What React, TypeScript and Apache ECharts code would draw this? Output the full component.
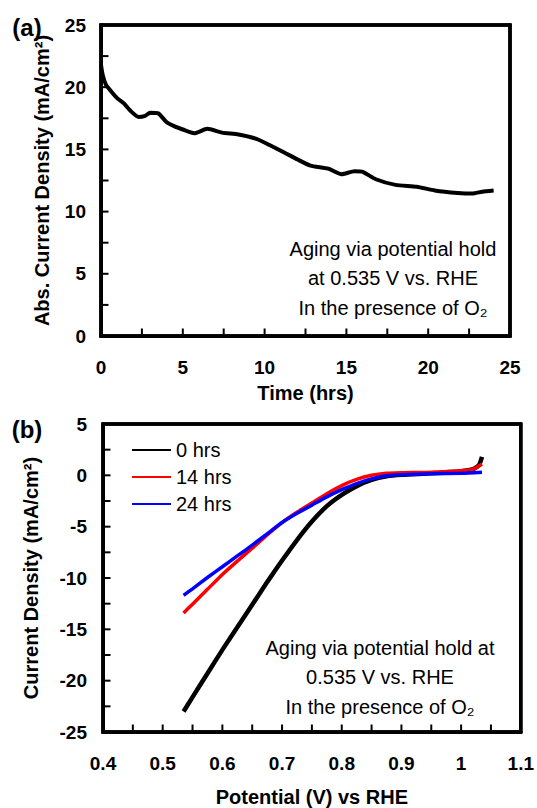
import React, { useEffect, useRef } from "react";
import * as echarts from "echarts";

// ---- (a) potential hold: time (hrs) vs abs. current density ----
const holdTime = [0, 0.1, 0.3, 0.6, 1.0, 1.4, 1.8, 2.3, 2.7, 3.0, 3.5, 4.0, 4.5, 5.0, 5.7, 6.5, 7.4, 8.4, 9.5, 10.3, 11.2, 12.0, 12.8, 13.9, 14.7, 15.5, 16.0, 16.8, 18.0, 19.3, 20.4, 21.8, 22.7, 23.3, 24.0];
const holdCurrent = [21.8, 21.0, 20.2, 19.7, 19.1, 18.7, 18.1, 17.6, 17.7, 17.95, 17.9, 17.2, 16.85, 16.6, 16.3, 16.65, 16.35, 16.2, 15.85, 15.35, 14.75, 14.2, 13.7, 13.45, 13.0, 13.25, 13.2, 12.6, 12.15, 12.0, 11.7, 11.5, 11.45, 11.6, 11.7];

// ---- (b) polarization curves ----
const potBlack = [0.535, 0.55, 0.575, 0.6, 0.625, 0.65, 0.675, 0.7, 0.725, 0.75, 0.775, 0.8, 0.825, 0.85, 0.875, 0.9, 0.95, 1.0, 1.02, 1.03, 1.035];
const cur0h = [-23.0, -21.6, -19.3, -17.0, -14.8, -12.6, -10.4, -8.3, -6.3, -4.5, -3.0, -1.9, -1.05, -0.45, -0.1, 0.05, 0.2, 0.4, 0.6, 1.0, 1.8];
const potRed = [0.535, 0.55, 0.575, 0.6, 0.625, 0.65, 0.675, 0.7, 0.725, 0.75, 0.775, 0.8, 0.825, 0.85, 0.875, 0.9, 0.95, 1.0, 1.02, 1.035];
const cur14h = [-13.4, -12.55, -11.1, -9.65, -8.35, -7.1, -5.8, -4.6, -3.6, -2.7, -1.8, -1.0, -0.4, 0.0, 0.2, 0.25, 0.3, 0.45, 0.6, 1.1];
const potBlue = [0.535, 0.55, 0.575, 0.6, 0.625, 0.65, 0.675, 0.7, 0.725, 0.75, 0.775, 0.8, 0.825, 0.85, 0.875, 0.9, 0.95, 1.0, 1.035];
const cur24h = [-11.7, -11.05, -9.95, -8.9, -7.85, -6.8, -5.7, -4.6, -3.7, -2.9, -2.1, -1.4, -0.8, -0.35, -0.05, 0.05, 0.15, 0.2, 0.3];

const legendNames = ["0 hrs", "14 hrs", "24 hrs"];
const noteA = ["Aging via potential hold", "at 0.535 V vs. RHE", "In the presence of O\u2082"];
const noteB = ["Aging via potential hold at", "0.535 V vs. RHE", "In the presence of O\u2082"];

// axis extents
const timeRange = [0, 25];
const densARange = [0, 25];
const potRange = [0.4, 1.1];
const densBRange = [-25, 5];

const FONT = "'Liberation Sans', Arial, Helvetica, sans-serif";

const zip = (xs: number[], ys: number[]) => xs.map((x, i) => [x, ys[i]]);
const steps = (min: number, max: number, step: number) => {
  const n = Math.round((max - min) / step);
  return Array.from({ length: n + 1 }, (_, i) => min + i * step);
};
const box = (xr: number[], yr: number[]) => [
  [xr[0], yr[0]],
  [xr[1], yr[0]],
  [xr[1], yr[1]],
  [xr[0], yr[1]],
  [xr[0], yr[0]],
];

export default function App() {
  const ref = useRef<HTMLDivElement>(null);
  useEffect(() => {
    document.body.style.margin = "0";
    if (!ref.current) return;
    const chart = echarts.init(ref.current, undefined, { renderer: "svg" });

    const labelStyle = { fontFamily: FONT, fontWeight: "bold", fontSize: 19, color: "#000" };
    const mainAxis = (name: string, nameGap: number, margin: number) => ({
      type: "value" as const,
      name,
      nameLocation: "middle" as const,
      nameGap,
      nameTextStyle: { fontFamily: FONT, fontWeight: "bold", fontSize: 20, color: "#000" },
      axisLine: { show: true, onZero: false, lineStyle: { color: "#000", width: 3 } },
      axisTick: { show: false },
      minorTick: { show: false },
      splitLine: { show: false },
      axisLabel: { ...labelStyle, margin },
    });

    // frame + inward ticks, placed through the axes' own scales
    const frameSeries = (xi: number, xr: number[], yr: number[], xTicks: number[], yTicks: number[]) => ({
      type: "custom",
      name: "frame" + xi,
      xAxisIndex: xi,
      yAxisIndex: xi,
      silent: true,
      clip: false,
      z: 5,
      data: [[xr[0], yr[0]]],
      renderItem: (_p: any, api: any) => {
        const [l, b] = api.coord([xr[0], yr[0]]);
        const [r, t] = api.coord([xr[1], yr[1]]);
        const W = 3;
        const fill = { fill: "#000" };
        const children: any[] = [
          { type: "rect", shape: { x: l - W / 2, y: t - W / 2, width: r - l + W, height: W }, style: fill },
          { type: "rect", shape: { x: l - W / 2, y: b - W / 2, width: r - l + W, height: W }, style: fill },
          { type: "rect", shape: { x: l - W / 2, y: t - W / 2, width: W, height: b - t + W }, style: fill },
          { type: "rect", shape: { x: r - W / 2, y: t - W / 2, width: W, height: b - t + W }, style: fill },
        ];
        xTicks.forEach((v) => {
          const px = api.coord([v, yr[0]])[0];
          children.push({ type: "rect", shape: { x: px - 1, y: b - W / 2 - 6, width: 2, height: 6 }, style: fill });
        });
        yTicks.forEach((v) => {
          const py = api.coord([xr[0], v])[1];
          children.push({ type: "rect", shape: { x: l + W / 2, y: py - 1, width: 6, height: 2 }, style: fill });
        });
        return { type: "group", children };
      },
    });

    const frameLine = (xi: number, xr: number[], yr: number[]) => ({
      type: "line",
      name: "box" + xi,
      xAxisIndex: xi,
      yAxisIndex: xi,
      data: box(xr, yr),
      symbol: "none",
      silent: true,
      clip: false,
      z: 6,
      lineStyle: { color: "#000", width: 3 },
      itemStyle: { color: "#000" },
    });

    const noteText = (lines: string[], cx: number, ys: number[]) =>
      lines.map((t, i) => ({
        type: "text",
        x: cx,
        y: ys[i],
        style: {
          text: t,
          font: `20px ${FONT}`,
          fill: "#000",
          align: "center",
          verticalAlign: "middle",
          textAlign: "center",
          textVerticalAlign: "middle",
        },
      }));

    const panelLabel = (t: string, x: number, y: number) => ({
      type: "text",
      x,
      y,
      style: { text: t, font: `bold 24px ${FONT}`, fill: "#000", align: "center", verticalAlign: "middle", textAlign: "center", textVerticalAlign: "middle" },
    });

    const baseGraphic = [
      panelLabel("(a)", 27, 27),
      panelLabel("(b)", 27, 429),
      ...noteText(noteA, 393, [249, 278, 308]),
      ...noteText(noteB, 380, [648, 677, 707]),
    ];

    chart.setOption({
      animation: false,
      grid: [
        { left: 101, top: 25, width: 409, height: 311, show: true, borderColor: "#000", borderWidth: 3 },
        { left: 103, top: 424, width: 418, height: 308, show: true, borderColor: "#000", borderWidth: 3 },
      ],
      xAxis: [
        { ...mainAxis("Time (hrs)", 47, 22), gridIndex: 0, min: timeRange[0], max: timeRange[1], interval: 5 },
        { ...mainAxis("Potential (V) vs RHE", 55, 22), gridIndex: 1, min: potRange[0], max: potRange[1], interval: 0.1 },
      ],
      yAxis: [
        { ...mainAxis("Abs. Current Density (mA/cm\u00b2)", 49, 15), gridIndex: 0, min: densARange[0], max: densARange[1], interval: 5 },
        { ...mainAxis("Current Density (mA/cm\u00b2)", 62, 16), gridIndex: 1, min: densBRange[0], max: densBRange[1], interval: 5 },
      ],
      legend: {
        data: legendNames,
        orient: "vertical",
        left: 127,
        top: 435,
        icon: "rect",
        itemWidth: 39,
        itemHeight: 2,
        itemGap: 7,
        textStyle: { fontFamily: FONT, fontSize: 20, color: "#000", lineHeight: 20 },
      },
      series: [
        frameSeries(0, timeRange, densARange, steps(0, 25, 2.5), steps(0, 25, 2.5)),
        frameSeries(1, potRange, densBRange, steps(0.4, 1.1, 0.05), steps(-25, 5, 2.5)),
        frameLine(0, timeRange, densARange),
        frameLine(1, potRange, densBRange),
        {
          name: "hold",
          type: "line",
          xAxisIndex: 0,
          yAxisIndex: 0,
          data: zip(holdTime, holdCurrent),
          symbol: "none",
          smooth: 0.2,
          lineStyle: { color: "#000", width: 4 },
          itemStyle: { color: "#000" },
        },
        {
          name: legendNames[0],
          type: "line",
          xAxisIndex: 1,
          yAxisIndex: 1,
          data: zip(potBlack, cur0h),
          symbol: "none",
          smooth: 0.2,
          lineStyle: { color: "#000", width: 4.5 },
          itemStyle: { color: "#000" },
        },
        {
          name: legendNames[1],
          type: "line",
          xAxisIndex: 1,
          yAxisIndex: 1,
          data: zip(potRed, cur14h),
          symbol: "none",
          smooth: 0.2,
          lineStyle: { color: "#ff0000", width: 3.5 },
          itemStyle: { color: "#ff0000" },
        },
        {
          name: legendNames[2],
          type: "line",
          xAxisIndex: 1,
          yAxisIndex: 1,
          data: zip(potBlue, cur24h),
          symbol: "none",
          smooth: 0.2,
          lineStyle: { color: "#0000ff", width: 3.5 },
          itemStyle: { color: "#0000ff" },
        },
      ],
      graphic: baseGraphic,
    });

    // extra frame outline through the axes' own pixel conversion
    const frameRect = (gi: number, xr: number[], yr: number[]) => {
      const p0 = chart.convertToPixel({ gridIndex: gi }, [xr[0], yr[1]]) as number[];
      const p1 = chart.convertToPixel({ gridIndex: gi }, [xr[1], yr[0]]) as number[];
      return {
        type: "rect",
        z: 100,
        silent: true,
        shape: { x: p0[0], y: p0[1], width: p1[0] - p0[0], height: p1[1] - p0[1] },
        style: { fill: "none", stroke: "#000", lineWidth: 3 },
      };
    };
    chart.setOption({
      graphic: [...baseGraphic, frameRect(0, timeRange, densARange), frameRect(1, potRange, densBRange)],
    });
    return () => chart.dispose();
  }, []);
  return <div ref={ref} style={{ width: 537, height: 808 }} />;
}
